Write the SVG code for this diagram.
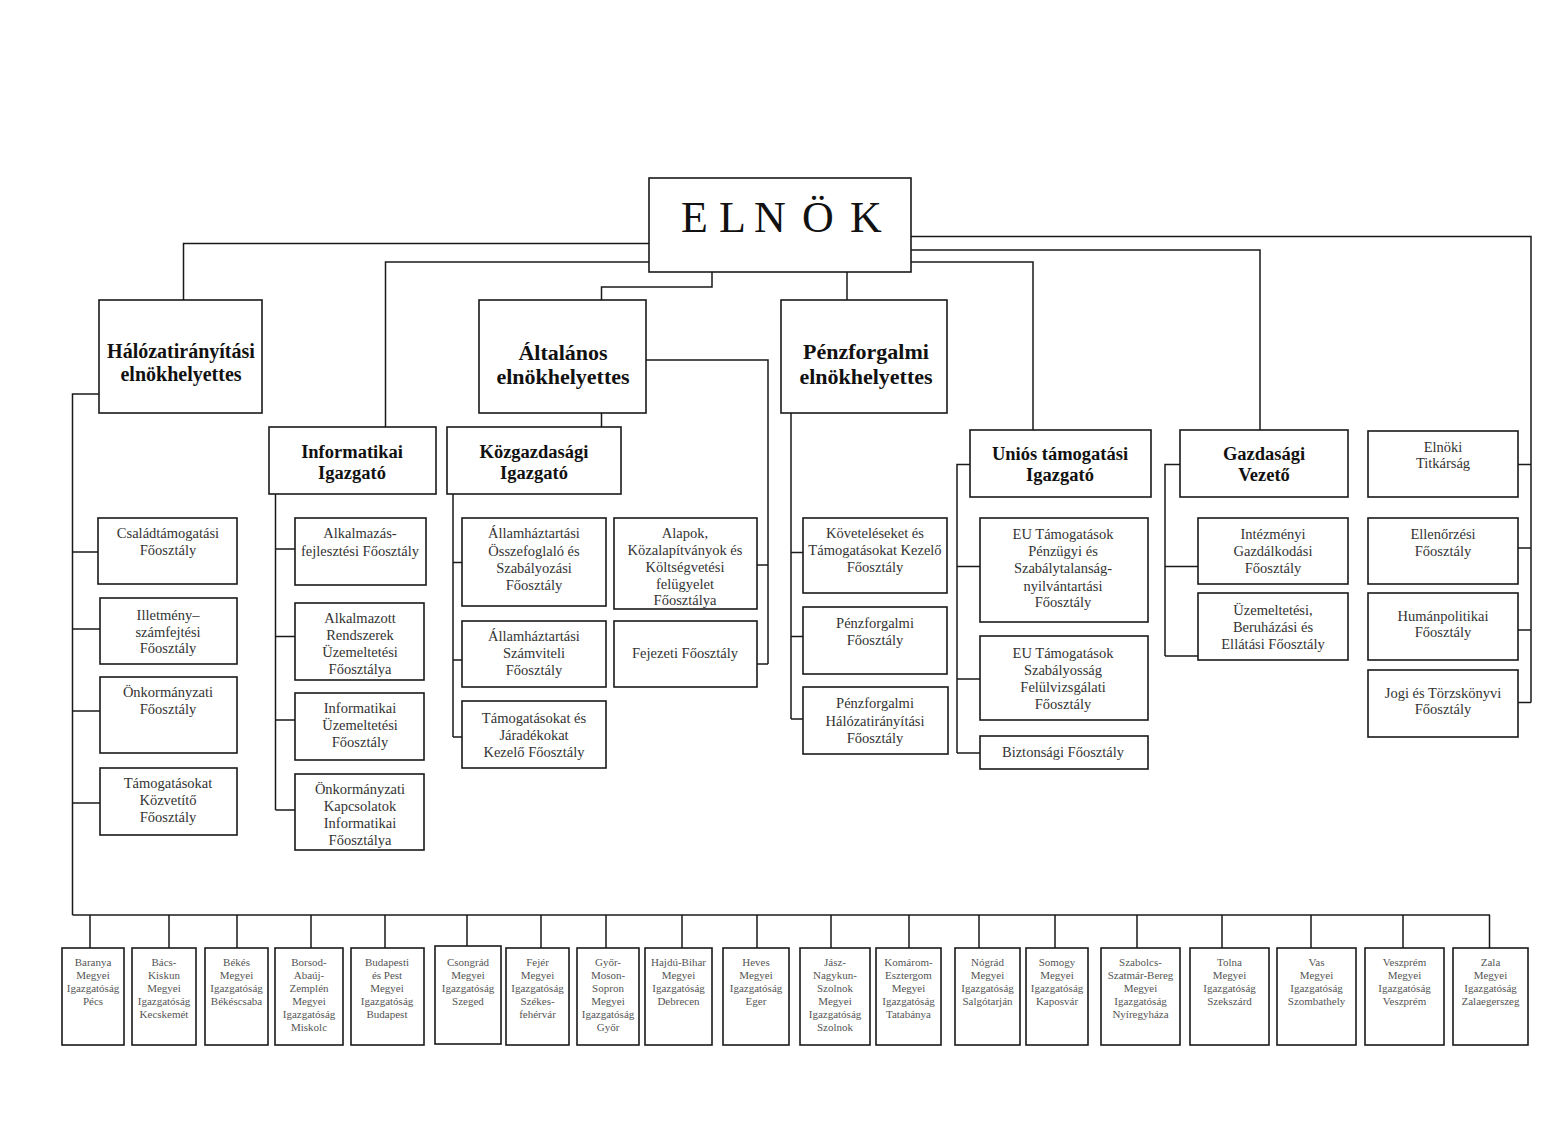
<svg xmlns="http://www.w3.org/2000/svg" width="1550" height="1128" viewBox="0 0 1550 1128">
<style>
.box{fill:#fff;stroke:#1a1a1a;stroke-width:1.6}
.ln{fill:none;stroke:#1a1a1a;stroke-width:1.5}
text{font-family:"Liberation Serif","Times New Roman",serif;text-anchor:middle}
.top{font-size:44px;fill:#111;text-anchor:start}
.b20{font-size:20px;font-weight:bold;fill:#111}
.b22{font-size:22px;font-weight:bold;fill:#111}
.b18{font-size:18.5px;font-weight:bold;fill:#111}
.t{font-size:14.5px;fill:#333}
.s{font-size:11px;fill:#555}
</style>
<rect width="1550" height="1128" fill="#fff"/>
<g id="connectors">
<path class="ln" d="M649,243.5H183.5V300"/>
<path class="ln" d="M649,262H385.5V427"/>
<path class="ln" d="M712,272V287H601.5V300"/>
<path class="ln" d="M847,272V300"/>
<path class="ln" d="M911,236.5H1531V702.5"/>
<path class="ln" d="M911,250H1260V430"/>
<path class="ln" d="M911,262H1033V430"/>
<path class="ln" d="M99,394H72.5V915"/>
<path class="ln" d="M72.5,552H98M72.5,629H100M72.5,711H100M72.5,803H100"/>
<path class="ln" d="M601.5,413V427"/>
<path class="ln" d="M646,360H768V664M757,565H768M757,664H768"/>
<path class="ln" d="M275.5,494V810M275.5,549H295M275.5,636.5H295M275.5,720H295M275.5,810H295"/>
<path class="ln" d="M453,494V737M453,562.5H462M453,660H462M453,737H462"/>
<path class="ln" d="M791,413V719M791,552.5H803M791,636.5H803M791,719H803"/>
<path class="ln" d="M970,464.5H957V753M957,566.5H980M957,679H980M957,753H980"/>
<path class="ln" d="M1180,464.5H1165V656M1165,566.5H1198M1165,656H1198"/>
<path class="ln" d="M1518,464.5H1531M1518,548H1531M1518,630H1531M1518,702.5H1531"/>
<path class="ln" d="M72.5,915H1490"/>
<path class="ln" d="M90,915V948M169,915V948M237,915V948M311,915V948M385,915V948M467,915V948M541,915V948M606,915V948M682,915V948M757,915V948M831,915V948M909,915V948M979,915V948M1055,915V948M1137,915V948M1222,915V948M1311,915V948M1403,915V948M1489.5,915V948"/>
</g>

<g id="elnok"><rect class="box" x="649" y="178" width="262" height="94"/><text class="top" x="681 719 754 802 850" y="232">ELNÖK</text></g>

<g id="halozat"><rect class="box" x="99" y="300" width="163" height="113"/><text class="b20"><tspan x="181" y="358">Hálózatirányítási</tspan><tspan x="181" y="381">elnökhelyettes</tspan></text></g>
<g id="altalanos"><rect class="box" x="479" y="300" width="167" height="113"/><text class="b22"><tspan x="563" y="360">Általános</tspan><tspan x="563" y="384">elnökhelyettes</tspan></text></g>
<g id="penzforgalmi"><rect class="box" x="781" y="300" width="166" height="113"/><text class="b22"><tspan x="866" y="359">Pénzforgalmi</tspan><tspan x="866" y="384">elnökhelyettes</tspan></text></g>

<g id="informatikai"><rect class="box" x="269" y="427" width="167" height="67"/><text class="b18"><tspan x="352" y="458">Informatikai</tspan><tspan x="352" y="479">Igazgató</tspan></text></g>
<g id="kozgazdasagi"><rect class="box" x="447" y="427" width="174" height="67"/><text class="b18"><tspan x="534" y="458">Közgazdasági</tspan><tspan x="534" y="479">Igazgató</tspan></text></g>
<g id="unios"><rect class="box" x="970" y="430" width="181" height="67"/><text class="b18"><tspan x="1060" y="460">Uniós támogatási</tspan><tspan x="1060" y="481">Igazgató</tspan></text></g>
<g id="gazdasagi"><rect class="box" x="1180" y="430" width="168" height="67"/><text class="b18"><tspan x="1264" y="460">Gazdasági</tspan><tspan x="1264" y="481">Vezető</tspan></text></g>
<g id="elnoki"><rect class="box" x="1368" y="431" width="150" height="66"/><text class="t"><tspan x="1443" y="451.5">Elnöki</tspan><tspan x="1443" y="468">Titkárság</tspan></text></g>

<g id="csaladtamogatasi"><rect class="box" x="98" y="518" width="139" height="66"/><text class="t"><tspan x="168" y="538">Családtámogatási</tspan><tspan x="168" y="555">Főosztály</tspan></text></g>
<g id="illetmeny"><rect class="box" x="100" y="598" width="137" height="66"/><text class="t"><tspan x="168" y="620">Illetmény–</tspan><tspan x="168" y="637">számfejtési</tspan><tspan x="168" y="653">Főosztály</tspan></text></g>
<g id="onkormanyzati"><rect class="box" x="100" y="677" width="137" height="76"/><text class="t"><tspan x="168" y="697">Önkormányzati</tspan><tspan x="168" y="714">Főosztály</tspan></text></g>
<g id="tamogatasokat-kozvetito"><rect class="box" x="100" y="768" width="137" height="67"/><text class="t"><tspan x="168" y="788">Támogatásokat</tspan><tspan x="168" y="805">Közvetítő</tspan><tspan x="168" y="822">Főosztály</tspan></text></g>

<g id="alkalmazasfejlesztesi"><rect class="box" x="295" y="518" width="131" height="67"/><text class="t"><tspan x="360" y="538">Alkalmazás-</tspan><tspan x="360" y="556">fejlesztési Főosztály</tspan></text></g>
<g id="alkalmazott-rendszerek"><rect class="box" x="295" y="603" width="129" height="77"/><text class="t"><tspan x="360" y="623">Alkalmazott</tspan><tspan x="360" y="640">Rendszerek</tspan><tspan x="360" y="657">Üzemeltetési</tspan><tspan x="360" y="674">Főosztálya</tspan></text></g>
<g id="informatikai-uzemeltetesi"><rect class="box" x="295" y="693" width="129" height="67"/><text class="t"><tspan x="360" y="713">Informatikai</tspan><tspan x="360" y="730">Üzemeltetési</tspan><tspan x="360" y="747">Főosztály</tspan></text></g>
<g id="onkormanyzati-kapcsolatok"><rect class="box" x="295" y="774" width="129" height="76"/><text class="t"><tspan x="360" y="794">Önkormányzati</tspan><tspan x="360" y="811">Kapcsolatok</tspan><tspan x="360" y="828">Informatikai</tspan><tspan x="360" y="845">Főosztálya</tspan></text></g>

<g id="ahtt-osszefoglalo"><rect class="box" x="462" y="518" width="144" height="88"/><text class="t"><tspan x="534" y="538">Államháztartási</tspan><tspan x="534" y="556">Összefoglaló és</tspan><tspan x="534" y="573">Szabályozási</tspan><tspan x="534" y="590">Főosztály</tspan></text></g>
<g id="ahtt-szamviteli"><rect class="box" x="462" y="621" width="144" height="66"/><text class="t"><tspan x="534" y="641">Államháztartási</tspan><tspan x="534" y="658">Számviteli</tspan><tspan x="534" y="675">Főosztály</tspan></text></g>
<g id="tamogatasokat-jaradekokat"><rect class="box" x="462" y="701" width="144" height="67"/><text class="t"><tspan x="534" y="723">Támogatásokat és</tspan><tspan x="534" y="740">Járadékokat</tspan><tspan x="534" y="757">Kezelő Főosztály</tspan></text></g>

<g id="alapok"><rect class="box" x="614" y="518" width="143" height="91"/><text class="t"><tspan x="685" y="537.5">Alapok,</tspan><tspan x="685" y="555">Közalapítványok és</tspan><tspan x="685" y="571.5">Költségvetési</tspan><tspan x="685" y="589">felügyelet</tspan><tspan x="685" y="605">Főosztálya</tspan></text></g>
<g id="fejezeti"><rect class="box" x="614" y="621" width="143" height="66"/><text class="t"><tspan x="685" y="657.5">Fejezeti Főosztály</tspan></text></g>

<g id="koveteleseket"><rect class="box" x="803" y="518" width="144" height="75"/><text class="t"><tspan x="875" y="537.5">Követeléseket és</tspan><tspan x="875" y="555">Támogatásokat Kezelő</tspan><tspan x="875" y="571.5">Főosztály</tspan></text></g>
<g id="penzforgalmi-foosztaly"><rect class="box" x="803" y="607" width="144" height="67"/><text class="t"><tspan x="875" y="628">Pénzforgalmi</tspan><tspan x="875" y="645">Főosztály</tspan></text></g>
<g id="penzforgalmi-halozat"><rect class="box" x="803" y="687" width="145" height="67"/><text class="t"><tspan x="875" y="708">Pénzforgalmi</tspan><tspan x="875" y="725.5">Hálózatirányítási</tspan><tspan x="875" y="742.5">Főosztály</tspan></text></g>

<g id="eu-penzugyi"><rect class="box" x="980" y="518" width="168" height="104"/><text class="t"><tspan x="1063" y="539">EU Támogatások</tspan><tspan x="1063" y="556">Pénzügyi és</tspan><tspan x="1063" y="573">Szabálytalanság-</tspan><tspan x="1063" y="590.5">nyilvántartási</tspan><tspan x="1063" y="607">Főosztály</tspan></text></g>
<g id="eu-szabalyossag"><rect class="box" x="980" y="636" width="168" height="84"/><text class="t"><tspan x="1063" y="658">EU Támogatások</tspan><tspan x="1063" y="675">Szabályosság</tspan><tspan x="1063" y="691.5">Felülvizsgálati</tspan><tspan x="1063" y="709">Főosztály</tspan></text></g>
<g id="biztonsagi"><rect class="box" x="980" y="736" width="168" height="33"/><text class="t"><tspan x="1063" y="756.5">Biztonsági Főosztály</tspan></text></g>

<g id="intezmenyi"><rect class="box" x="1198" y="518" width="150" height="66"/><text class="t"><tspan x="1273" y="539">Intézményi</tspan><tspan x="1273" y="556">Gazdálkodási</tspan><tspan x="1273" y="573">Főosztály</tspan></text></g>
<g id="uzemeltetesi"><rect class="box" x="1198" y="593" width="150" height="67"/><text class="t"><tspan x="1273" y="615">Üzemeltetési,</tspan><tspan x="1273" y="632">Beruházási és</tspan><tspan x="1273" y="649">Ellátási Főosztály</tspan></text></g>

<g id="ellenorzesi"><rect class="box" x="1368" y="518" width="150" height="66"/><text class="t"><tspan x="1443" y="539">Ellenőrzési</tspan><tspan x="1443" y="556">Főosztály</tspan></text></g>
<g id="humanpolitikai"><rect class="box" x="1368" y="593" width="150" height="67"/><text class="t"><tspan x="1443" y="621">Humánpolitikai</tspan><tspan x="1443" y="637">Főosztály</tspan></text></g>
<g id="jogi"><rect class="box" x="1368" y="670" width="150" height="67"/><text class="t"><tspan x="1443" y="697.5">Jogi és Törzskönyvi</tspan><tspan x="1443" y="714">Főosztály</tspan></text></g>

<g id="baranya"><rect class="box" x="62" y="948" width="62" height="97"/><text class="s"><tspan x="93" y="965.5">Baranya</tspan><tspan x="93" y="978.5">Megyei</tspan><tspan x="93" y="991.5">Igazgatóság</tspan><tspan x="93" y="1004.5">Pécs</tspan></text></g>
<g id="bacs"><rect class="box" x="132" y="948" width="64" height="97"/><text class="s"><tspan x="164" y="965.5">Bács-</tspan><tspan x="164" y="978.5">Kiskun</tspan><tspan x="164" y="991.5">Megyei</tspan><tspan x="164" y="1004.5">Igazgatóság</tspan><tspan x="164" y="1017.5">Kecskemét</tspan></text></g>
<g id="bekes"><rect class="box" x="205" y="948" width="63" height="97"/><text class="s"><tspan x="236.5" y="965.5">Békés</tspan><tspan x="236.5" y="978.5">Megyei</tspan><tspan x="236.5" y="991.5">Igazgatóság</tspan><tspan x="236.5" y="1004.5">Békéscsaba</tspan></text></g>
<g id="borsod"><rect class="box" x="275" y="948" width="68" height="97"/><text class="s"><tspan x="309" y="965.5">Borsod-</tspan><tspan x="309" y="978.5">Abaúj-</tspan><tspan x="309" y="991.5">Zemplén</tspan><tspan x="309" y="1004.5">Megyei</tspan><tspan x="309" y="1017.5">Igazgatóság</tspan><tspan x="309" y="1030.5">Miskolc</tspan></text></g>
<g id="budapest"><rect class="box" x="351" y="948" width="73" height="97"/><text class="s"><tspan x="387" y="965.5">Budapesti</tspan><tspan x="387" y="978.5">és Pest</tspan><tspan x="387" y="991.5">Megyei</tspan><tspan x="387" y="1004.5">Igazgatóság</tspan><tspan x="387" y="1017.5">Budapest</tspan></text></g>
<g id="csongrad"><rect class="box" x="435" y="946" width="66" height="98"/><text class="s"><tspan x="468" y="965.5">Csongrád</tspan><tspan x="468" y="978.5">Megyei</tspan><tspan x="468" y="991.5">Igazgatóság</tspan><tspan x="468" y="1004.5">Szeged</tspan></text></g>
<g id="fejer"><rect class="box" x="506" y="948" width="63" height="97"/><text class="s"><tspan x="537.5" y="965.5">Fejér</tspan><tspan x="537.5" y="978.5">Megyei</tspan><tspan x="537.5" y="991.5">Igazgatóság</tspan><tspan x="537.5" y="1004.5">Székes-</tspan><tspan x="537.5" y="1017.5">fehérvár</tspan></text></g>
<g id="gyor"><rect class="box" x="577" y="948" width="62" height="97"/><text class="s"><tspan x="608" y="965.5">Győr-</tspan><tspan x="608" y="978.5">Moson-</tspan><tspan x="608" y="991.5">Sopron</tspan><tspan x="608" y="1004.5">Megyei</tspan><tspan x="608" y="1017.5">Igazgatóság</tspan><tspan x="608" y="1030.5">Győr</tspan></text></g>
<g id="hajdu"><rect class="box" x="645" y="948" width="67" height="97"/><text class="s"><tspan x="678.5" y="965.5">Hajdú-Bihar</tspan><tspan x="678.5" y="978.5">Megyei</tspan><tspan x="678.5" y="991.5">Igazgatóság</tspan><tspan x="678.5" y="1004.5">Debrecen</tspan></text></g>
<g id="heves"><rect class="box" x="723" y="948" width="66" height="97"/><text class="s"><tspan x="756" y="965.5">Heves</tspan><tspan x="756" y="978.5">Megyei</tspan><tspan x="756" y="991.5">Igazgatóság</tspan><tspan x="756" y="1004.5">Eger</tspan></text></g>
<g id="jasz"><rect class="box" x="800" y="948" width="70" height="97"/><text class="s"><tspan x="835" y="965.5">Jász-</tspan><tspan x="835" y="978.5">Nagykun-</tspan><tspan x="835" y="991.5">Szolnok</tspan><tspan x="835" y="1004.5">Megyei</tspan><tspan x="835" y="1017.5">Igazgatóság</tspan><tspan x="835" y="1030.5">Szolnok</tspan></text></g>
<g id="komarom"><rect class="box" x="876" y="948" width="65" height="97"/><text class="s"><tspan x="908.5" y="965.5">Komárom-</tspan><tspan x="908.5" y="978.5">Esztergom</tspan><tspan x="908.5" y="991.5">Megyei</tspan><tspan x="908.5" y="1004.5">Igazgatóság</tspan><tspan x="908.5" y="1017.5">Tatabánya</tspan></text></g>
<g id="nograd"><rect class="box" x="955" y="948" width="65" height="97"/><text class="s"><tspan x="987.5" y="965.5">Nógrád</tspan><tspan x="987.5" y="978.5">Megyei</tspan><tspan x="987.5" y="991.5">Igazgatóság</tspan><tspan x="987.5" y="1004.5">Salgótarján</tspan></text></g>
<g id="somogy"><rect class="box" x="1026" y="948" width="62" height="97"/><text class="s"><tspan x="1057" y="965.5">Somogy</tspan><tspan x="1057" y="978.5">Megyei</tspan><tspan x="1057" y="991.5">Igazgatóság</tspan><tspan x="1057" y="1004.5">Kaposvár</tspan></text></g>
<g id="szabolcs"><rect class="box" x="1101" y="948" width="79" height="97"/><text class="s"><tspan x="1140.5" y="965.5">Szabolcs-</tspan><tspan x="1140.5" y="978.5">Szatmár-Bereg</tspan><tspan x="1140.5" y="991.5">Megyei</tspan><tspan x="1140.5" y="1004.5">Igazgatóság</tspan><tspan x="1140.5" y="1017.5">Nyíregyháza</tspan></text></g>
<g id="tolna"><rect class="box" x="1190" y="948" width="79" height="97"/><text class="s"><tspan x="1229.5" y="965.5">Tolna</tspan><tspan x="1229.5" y="978.5">Megyei</tspan><tspan x="1229.5" y="991.5">Igazgatóság</tspan><tspan x="1229.5" y="1004.5">Szekszárd</tspan></text></g>
<g id="vas"><rect class="box" x="1277" y="948" width="79" height="97"/><text class="s"><tspan x="1316.5" y="965.5">Vas</tspan><tspan x="1316.5" y="978.5">Megyei</tspan><tspan x="1316.5" y="991.5">Igazgatóság</tspan><tspan x="1316.5" y="1004.5">Szombathely</tspan></text></g>
<g id="veszprem"><rect class="box" x="1365" y="948" width="79" height="97"/><text class="s"><tspan x="1404.5" y="965.5">Veszprém</tspan><tspan x="1404.5" y="978.5">Megyei</tspan><tspan x="1404.5" y="991.5">Igazgatóság</tspan><tspan x="1404.5" y="1004.5">Veszprém</tspan></text></g>
<g id="zala"><rect class="box" x="1453" y="948" width="75" height="97"/><text class="s"><tspan x="1490.5" y="965.5">Zala</tspan><tspan x="1490.5" y="978.5">Megyei</tspan><tspan x="1490.5" y="991.5">Igazgatóság</tspan><tspan x="1490.5" y="1004.5">Zalaegerszeg</tspan></text></g>
</svg>
